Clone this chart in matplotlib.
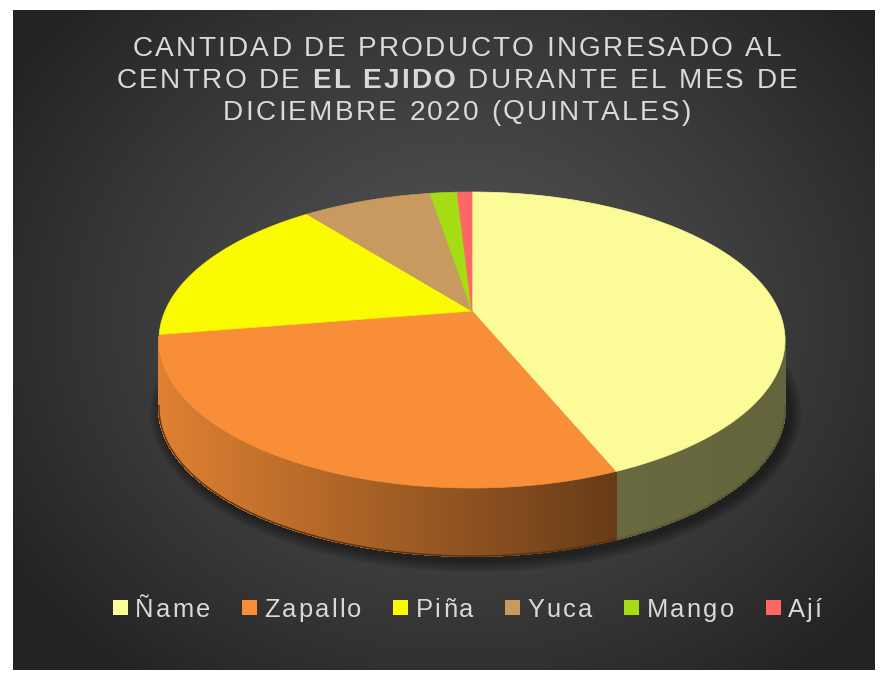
import numpy as np
import matplotlib
matplotlib.use("Agg")
from matplotlib import pyplot as plt
from matplotlib.patches import Polygon, Ellipse, Rectangle
from matplotlib.collections import PolyCollection
from matplotlib import font_manager
from matplotlib.ft2font import FT2Font

# datos (quintales)
productos = ["Ñame", "Zapallo", "Piña", "Yuca", "Mango", "Ají"]
cantidades = [850, 665, 312, 134, 28, 15]
colores = ["#FBFB98", "#F88F38", "#FAFA00", "#C89A60", "#A6DC14", "#FF6666"]

titulo_1 = "CANTIDAD DE PRODUCTO INGRESADO AL"
titulo_2 = ["CENTRO DE ", "EL EJIDO", " DURANTE EL MES DE"]
titulo_3 = "DICIEMBRE 2020 (QUINTALES)"

W, H = 882, 681
fig = plt.figure(figsize=(W / 100, H / 100), dpi=100)
ax = fig.add_axes([0, 0, 1, 1])
ax.set_xlim(0, W)
ax.set_ylim(H, 0)
ax.axis("off")

# fondo con degradado radial
x0, x1, y0, y1 = 13, 875, 10, 670
gx, gy = np.meshgrid(np.linspace(x0, x1, 300), np.linspace(y0, y1, 240))
r = np.hypot((gx - 460) / 560, (gy - 320) / 480)
v = np.clip(82 - 50 * r ** 1.3, 34, 90) / 255
ax.imshow(np.dstack([v, v, v]), extent=(x0, x1, y1, y0), zorder=0, aspect="auto")

# geometria del pastel 3D
cx, cy, a, b = 472, 340, 313, 148
apex = (472, 311)
depth = 68


def punto(t):
    return cx + a * np.cos(t), cy - b * np.sin(t)


def sombra(xn):
    return np.interp(xn, [-1, 0.45, 1], [0.9, 0.42, 0.40])


total = sum(cantidades)
bordes = 90 - np.concatenate([[0], np.cumsum(cantidades)]) * 360 / total

# sombra bajo el pastel
for k in range(8):
    ax.add_patch(Ellipse((cx + 4, cy + depth + 4), 2 * a + 4 + 3 * k, 2 * b + 4 + 3 * k,
                         color="black", alpha=0.06, lw=0, zorder=1))

# lados
for i in range(len(cantidades)):
    t_ini, t_fin = np.radians(bordes[i + 1]), np.radians(bordes[i])
    ts = np.linspace(t_ini, t_fin, 300)
    ts = ts[np.sin(ts) <= 0.02]
    if len(ts) < 2:
        continue
    base = np.array(matplotlib.colors.to_rgb(colores[i]))
    polys, cols = [], []
    for ta, tb in zip(ts[:-1], ts[1:]):
        xa, ya = punto(ta)
        xb, yb = punto(tb)
        polys.append([(xa, ya), (xb, yb), (xb, yb + depth), (xa, ya + depth)])
        cols.append(np.clip(base * sombra(np.cos((ta + tb) / 2)), 0, 1))
    ax.add_collection(PolyCollection(polys, facecolors=cols, edgecolors=cols, lw=1.0,
                                     antialiased=False, zorder=2))
    # borde suave inferior
    tb_ = np.linspace(ts[0], ts[-1], 200)
    xb_, yb_ = punto(tb_)
    ax.plot(xb_, yb_ + depth, color=np.clip(base * 0.35, 0, 1), lw=1.0, zorder=2)

# caras superiores
for i in range(len(cantidades)):
    ts = np.radians(np.linspace(bordes[i], bordes[i + 1], 120))
    xs, ys = punto(ts)
    pts = [apex] + list(zip(xs, ys))
    ax.add_patch(Polygon(pts, closed=True, facecolor=colores[i], edgecolor=colores[i],
                         lw=0.5, zorder=3))

# texto con espaciado entre letras (como en Excel)
tc = "#D9D9D9"
fuentes = {}


def avance(ch, size, weight):
    clave = (size, weight)
    if clave not in fuentes:
        fp = font_manager.FontProperties(family="Liberation Sans", weight=weight)
        f = FT2Font(font_manager.findfont(fp))
        f.set_size(size, 100)
        fuentes[clave] = f
    g = fuentes[clave].load_char(ord(ch))
    return g.linearHoriAdvance / 65536


def ancho(partes, size, esp):
    return sum(avance(c, size, w) + esp for s, w in partes for c in s) - esp


def texto(x, y, partes, size, esp, centrado=True):
    if centrado:
        x = x - ancho(partes, size, esp) / 2
    for s, w in partes:
        for c in s:
            ax.text(x, y, c, color=tc, fontsize=size, family="Liberation Sans",
                    weight=w, ha="left", va="baseline", zorder=5)
            x += avance(c, size, w) + esp
    return x


# titulo
fs, esp_t = 20.2, 2.3
xc = 457
texto(xc, 56.5, [(titulo_1, "normal")], fs, esp_t)
texto(xc, 88, [(titulo_2[0], "normal"), (titulo_2[1], "bold"), (titulo_2[2], "normal")], fs, esp_t)
texto(xc, 119.5, [(titulo_3, "normal")], fs, esp_t)

# leyenda
fl, esp_l = 18.4, 2.3
cuadro, gap_t, gap_i = 15, 7, 32
anchos = [cuadro + gap_t + ancho([(p, "normal")], fl, esp_l) for p in productos]
x = 467.5 - (sum(anchos) + gap_i * (len(productos) - 1)) / 2
for p, c, w in zip(productos, colores, anchos):
    ax.add_patch(Rectangle((x, 600), cuadro, cuadro, facecolor=c, lw=0, zorder=5))
    texto(x + cuadro + gap_t, 617, [(p, "normal")], fl, esp_l, centrado=False)
    x += w + gap_i

fig.savefig("out.png", dpi=100, facecolor="white")
